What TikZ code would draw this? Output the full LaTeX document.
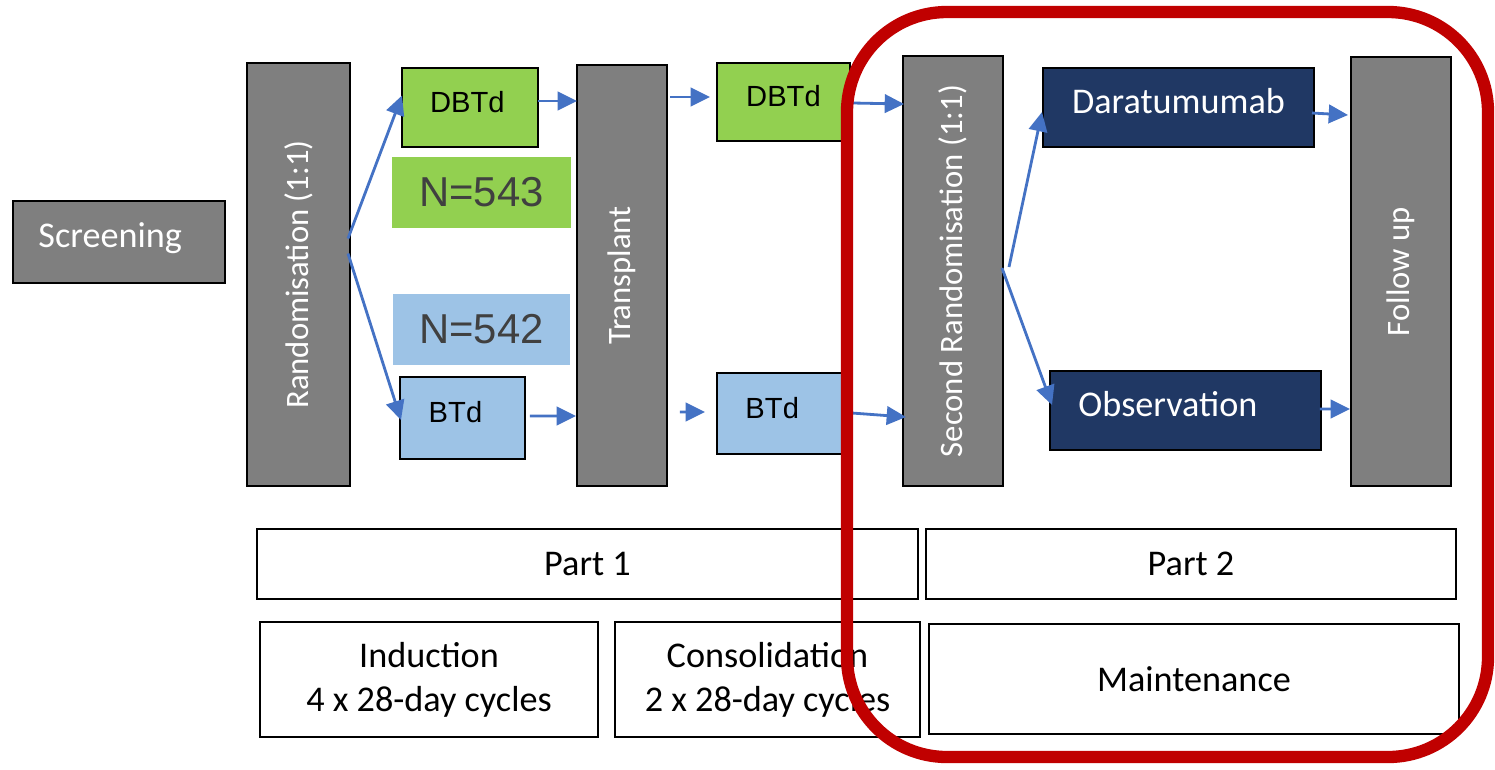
\documentclass[tikz,border=0pt]{standalone}
\usepackage{fontspec}
\setmainfont{Carlito}
\newfontfamily\arialfont{Liberation Sans}
\usepackage{graphicx}
\usepackage{xcolor}
\usetikzlibrary{arrows.meta}
\usetikzlibrary{calc}

\definecolor{boxgray}{HTML}{7F7F7F}
\definecolor{armgreen}{HTML}{92D050}
\definecolor{armblue}{HTML}{9DC3E6}
\definecolor{navy}{HTML}{203864}
\definecolor{flowblue}{HTML}{4472C4}
\definecolor{framered}{HTML}{C00000}
\definecolor{ntext}{HTML}{404040}

\begin{document}
\begin{tikzpicture}[x=0.02cm,y=-0.02cm,
    box/.style={draw=black, line width=1pt, inner sep=0pt, outer sep=0pt},
    graybox/.style={box, fill=boxgray, text=white, text height=13.3pt, text depth=7pt, font=\fontsize{20.6}{25}\selectfont},
    stage/.style={box, fill=boxgray, text=white, font=\fontsize{18.6}{22}\selectfont},
    armbox/.style={box, text=black, text height=11.9pt, text depth=6.5pt, font=\arialfont\fontsize{16.6}{20}\selectfont},
    countbox/.style={inner sep=0pt, outer sep=0pt, text=ntext, font=\arialfont\fontsize{23.8}{28}\selectfont},
    navybox/.style={box, fill=navy, text=white, text height=13.3pt, text depth=7pt, font=\fontsize{20.6}{25}\selectfont},
    phase/.style={draw=black, line width=0.9pt, fill=white, inner sep=0pt, align=center, font=\fontsize{20.6}{25}\selectfont},
    flow/.style={draw=flowblue, line width=1.6pt, -{Triangle[length=11pt,width=10.5pt]}}
    ]

\useasboundingbox (0,0) rectangle (1495,769);

% left part
\node[graybox, minimum width=4.24cm, minimum height=1.64cm] (screen) at (119,242) {Screening\hspace*{10pt}};
\node[stage, minimum width=2.06cm, minimum height=8.46cm] (rand) at (298.5,274.5) {\rotatebox{90}{Randomisation (1:1)}};

\node[armbox, fill=armgreen, minimum width=2.72cm, minimum height=1.58cm] (dbtdA) at (470,107.5) {DBTd\hspace*{3pt}};
\node[countbox, fill=armgreen, minimum width=3.58cm, minimum height=1.42cm] (nA) at (481.5,192.5) {N=543};
\node[countbox, fill=armblue, minimum width=3.54cm, minimum height=1.42cm] (nB) at (481.5,329.5) {N=542};
\node[armbox, fill=armblue, minimum width=2.5cm, minimum height=1.64cm] (btdA) at (462.5,418) {BTd\hspace*{8pt}};

\node[stage, minimum width=1.8cm, minimum height=8.42cm] (trans) at (622,275.5) {\rotatebox{90}{Transplant}};

\node[armbox, fill=armgreen, minimum width=2.66cm, minimum height=1.56cm] (dbtdB) at (783.5,102) {DBTd};
\node[armbox, fill=armblue, minimum width=2.56cm, minimum height=1.62cm] (btdB) at (781,413.5) {BTd\hspace*{10pt}};

% maintenance part
\node[stage, minimum width=2cm, minimum height=8.6cm] (rand2) at (953,271) {\rotatebox{90}{Second Randomisation (1:1)}};
\node[navybox, minimum width=5.42cm, minimum height=1.58cm] (dara) at (1178.5,107.5) {Daratumumab};
\node[navybox, minimum width=5.42cm, minimum height=1.58cm] (obs) at (1185.5,410.5) {Observation\hspace*{20pt}};
\node[stage, minimum width=2cm, minimum height=8.58cm] (follow) at (1401,271.5) {\rotatebox{90}{Follow up}};

% phases
\node[phase, minimum width=13.22cm, minimum height=1.4cm] (part1) at (587.5,564) {Part 1};
\node[phase, minimum width=10.6cm, minimum height=1.4cm] (part2) at (1191,564) {Part 2};
\node[phase, minimum width=6.76cm, minimum height=2.3cm] (induct) at (429,679.5) {Induction\\4 x 28-day cycles};
\node[phase, minimum width=6.1cm, minimum height=2.3cm] (consol) at (767.5,679.5) {Consolidation\\2 x 28-day cycles};
\node[phase, minimum width=10.6cm, minimum height=2.2cm] (maint) at (1194,679) {Maintenance};

% arrows
\draw[flow] ($(rand.east)+(-2,-36)$) -- ($(dbtdA.west)+(0,-12)$);
\draw[flow] ($(rand.east)+(-2,-21)$) -- ($(btdA.west)+(1,2)$);
\draw[flow] ($(dbtdA.east)+(0,-6.5)$) -- ($(trans.west)+(0,-174.5)$);
\draw[flow] ($(btdA.east)+(5,-2)$) -- ($(trans.west)+(-1,140.5)$);
\draw[flow] ($(trans.east)+(3,-178.5)$) -- ($(dbtdB.west)+(-7,-5)$);
\draw[flow] ($(trans.east)+(13,136.5)$) -- ($(btdB.west)+(-12,-1.5)$);
\draw[flow] ($(dbtdB.east)+(3,1)$) -- ($(rand2.west)+(1,-167)$);
\draw[flow] ($(btdB.east)+(7,-0.5)$) -- ($(rand2.west)+(3,146)$);
\draw[flow] ($(rand2.east)+(6,-4)$) -- ($(dara.west)+(-1,4.5)$);
\draw[flow] ($(rand2.east)+(-1,-3)$) -- ($(obs.west)+(2,-5.5)$);
\draw[flow] ($(dara.east)+(-2,5.5)$) -- ($(follow.west)+(-3,-156.5)$);
\draw[flow] ($(obs.east)+(-1,-1.5)$) -- ($(follow.west)+(-1,137.5)$);

% highlight of part 2
\draw[framered, line width=7pt, rounded corners=2cm] (847,12) rectangle (1488,757);

\end{tikzpicture}
\end{document}
